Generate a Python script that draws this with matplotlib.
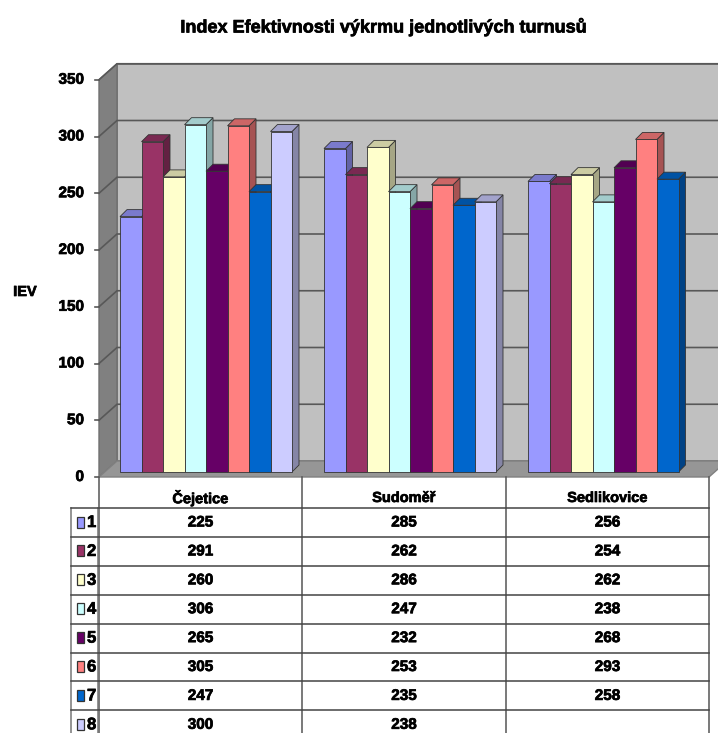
import matplotlib
matplotlib.use("Agg")
import matplotlib.pyplot as plt
import matplotlib.patheffects as pe
from matplotlib.patches import Polygon, Rectangle
import matplotlib.colors as mcolors

W, H = 718, 733

sites = ["Čejetice", "Sudoměř", "Sedlikovice"]
turnusy = ["1", "2", "3", "4", "5", "6", "7", "8"]
cejetice = [225, 291, 260, 306, 265, 305, 247, 300]
sudomer = [285, 262, 286, 247, 232, 253, 235, 238]
sedlikovice = [256, 254, 262, 238, 268, 293, 258, None]
colors = ["#9999FF", "#993366", "#FFFFCC", "#CCFFFF",
          "#660066", "#FF8080", "#0066CC", "#CCCCFF"]
yticks = [0, 50, 100, 150, 200, 250, 300, 350]

plt.rcParams["font.family"] = ["Liberation Sans", "DejaVu Sans"]
plt.rcParams["font.weight"] = "bold"

fig = plt.figure(figsize=(W / 100, H / 100), dpi=100, facecolor="white")

# Zesílený tah písma
heavy = [pe.withStroke(linewidth=0.5, foreground="black")]

# Osa v hodnotách IEV: 1 jednotka = 1.135 px, 0 leží na y = 472 px
PX_Y = 1.135
BASE = 472
GROUP = 204
X0 = 120
ax = fig.add_axes([0, 0, 1, 1], facecolor="none", zorder=2)
ax.set_xlim(-X0 / GROUP, (W - X0) / GROUP)
ax.set_ylim((BASE - H) / PX_Y, BASE / PX_Y)
ax.axis("off")


def dx(px):
    return px / GROUP


def dy(px):
    return px / PX_Y


def shade(color, k):
    r, g, b = mcolors.to_rgb(color)
    return (r * k, g * k, b * k)


# Stěny a podlaha grafu
left = dx(-21)
back = dx(-3)
right = dx(589)
back_right = dx(607)
front_y = dy(-5)
back_y = dy(11)
top = yticks[-1]
ax.add_patch(Polygon([(back, back_y), (back_right, back_y), (back_right, top + back_y),
                      (back, top + back_y)], fc="#C0C0C0", ec="#707070", lw=1.2, zorder=1))
ax.add_patch(Polygon([(left, front_y), (back, back_y), (back, top + back_y),
                      (left, top + front_y)], fc="#808080", ec="#707070", lw=1.0, zorder=1))
ax.add_patch(Polygon([(left, front_y), (right, front_y), (back_right, back_y),
                      (back, back_y)], fc="#969696", ec="#808080", lw=1.0, zorder=1.5))

for t in yticks[1:]:
    ax.plot([left, back, back_right], [t + front_y, t + back_y, t + back_y],
            color="#585858", lw=1.2, zorder=1.2)
for t in yticks:
    ax.plot([left - dx(4), left], [t + front_y, t + front_y], color="#585858", lw=1.2, zorder=1.2)
    ax.text(left - dx(15), t + front_y, str(t), ha="right", va="center", fontsize=11,
            path_effects=heavy, zorder=6)

# Sloupce zleva doprava, aby se boky překrývaly správně
bar_w = dx(21.5)
depth_x, depth_y = dx(7), dy(7)
z = 2.0
for i, series in enumerate([cejetice, sudomer, sedlikovice]):
    for j, value in enumerate(series):
        if value is None:
            continue
        x = i + j * bar_w
        col = colors[j]
        ax.add_patch(Polygon([(x + bar_w, 0), (x + bar_w + depth_x, depth_y),
                              (x + bar_w + depth_x, value + depth_y), (x + bar_w, value)],
                             fc=shade(col, 0.65), ec="#333333", lw=0.6, zorder=z))
        ax.add_patch(Polygon([(x, value), (x + bar_w, value),
                              (x + bar_w + depth_x, value + depth_y), (x + depth_x, value + depth_y)],
                             fc=shade(col, 0.8), ec="#333333", lw=0.6, zorder=z))
        ax.bar(x, value, width=bar_w, align="edge", color=col,
               edgecolor="#333333", linewidth=0.6, zorder=z + 0.1)
        z += 0.2

# Popisky mimo vykreslovací plochu
fig.text(383 / W, 1 - 27 / H, "Index Efektivnosti výkrmu jednotlivých turnusů",
         ha="center", va="center", fontsize=13, path_effects=heavy)
fig.text(25 / W, 1 - 292 / H, "IEV", ha="center", va="center", fontsize=10.5, path_effects=heavy)

# Datová tabulka pod grafem, kreslená v pixelech
tb = fig.add_axes([0, 0, 1, 1], facecolor="none", zorder=3)
tb.set_xlim(0, W)
tb.set_ylim(H, 0)
tb.axis("off")

col_x = [99, 302, 506, 709]
row_y = [508 + 28.9 * r for r in range(8)]
for xc in col_x:
    tb.plot([xc, xc], [477, H], color="#555555", lw=1.1)
for xc in [71, 98]:
    tb.plot([xc, xc], [508, H], color="#777777", lw=1.1)
for yr in row_y:
    tb.plot([71, 709], [yr, yr], color="#444444", lw=1.1)

for c, name in enumerate(sites):
    tb.text((col_x[c] + col_x[c + 1]) / 2, 498, name, ha="center", va="center",
            fontsize=10.5, path_effects=heavy)

for r, (label, col) in enumerate(zip(turnusy, colors)):
    cy = row_y[r] + 14.5
    tb.add_patch(Rectangle((77, cy - 6), 6.5, 11, fc=col, ec="#333333", lw=0.9))
    tb.text(87, cy, label, ha="left", va="center", fontsize=12, path_effects=heavy)
    for c, series in enumerate([cejetice, sudomer, sedlikovice]):
        if series[r] is not None:
            tb.text((col_x[c] + col_x[c + 1]) / 2, cy, str(series[r]),
                    ha="center", va="center", fontsize=11, path_effects=heavy)

fig.savefig("out.png", dpi=100)
